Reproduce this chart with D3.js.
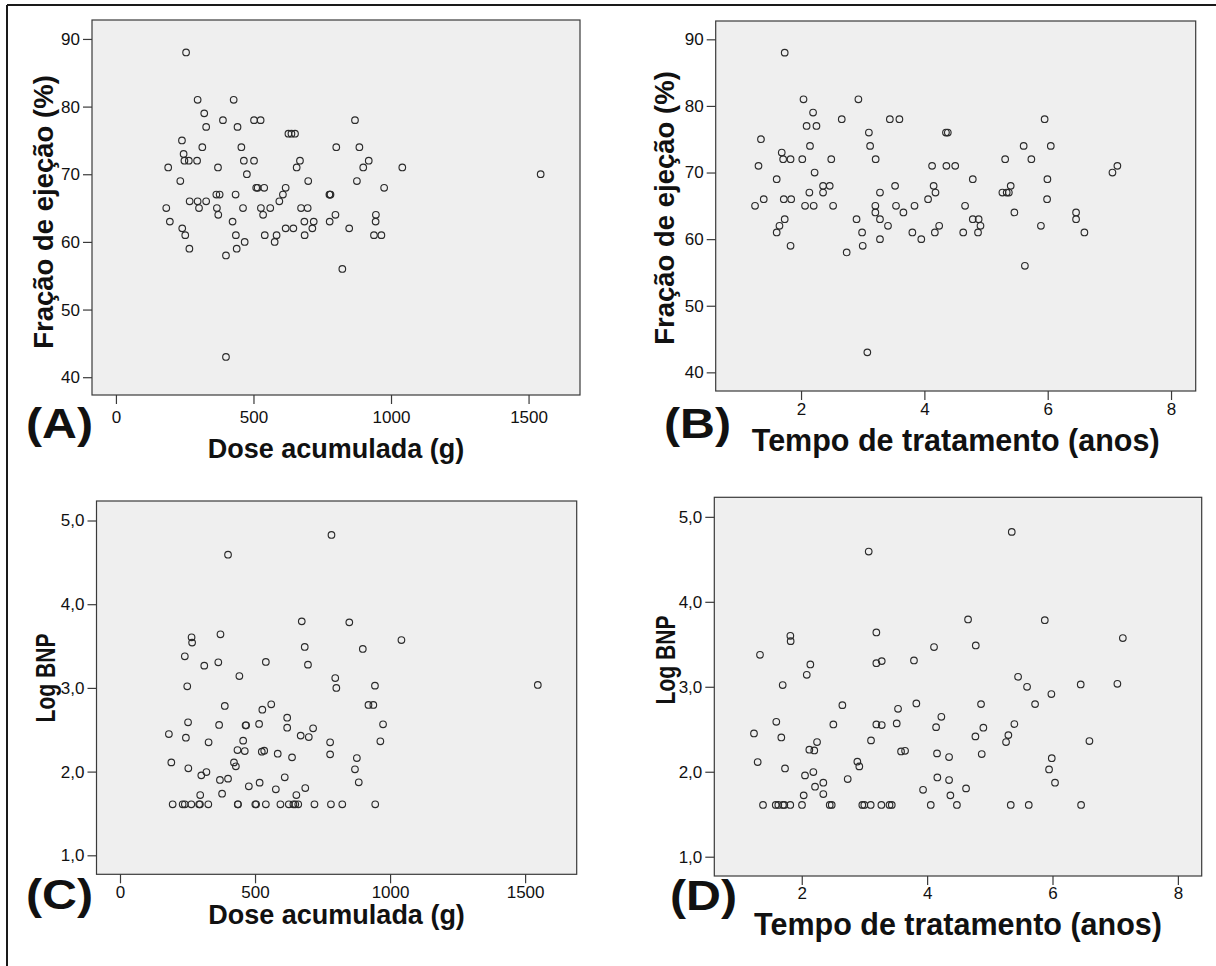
<!DOCTYPE html>
<html>
<head>
<meta charset="utf-8">
<script src="https://cdn.jsdelivr.net/npm/d3@7"></script>
<style>
  html, body { margin: 0; padding: 0; background: #ffffff; }
  svg { display: block; }
</style>
</head>
<body>
<svg id="fig" width="1216" height="966"></svg>
<script>
// ---------- Data ----------
// (A) cumulative dose (g) vs ejection fraction (%)
const doseA = [255, 297, 428, 321, 389, 442, 328, 502, 526, 869, 627, 638, 651, 240, 314, 456, 801, 885,
  246, 249, 265, 295, 465, 502, 669, 919, 190, 371, 657, 899, 1041, 234, 476, 1544, 699, 876, 975,
  510, 515, 539, 617, 607, 365, 377, 435, 776, 778, 780, 594, 268, 297, 328, 183, 302, 367, 462, 527,
  561, 673, 697, 196, 372, 535, 798, 945, 424, 685, 719, 777, 944, 241, 617, 645, 714, 848, 252, 436,
  541, 584, 686, 938, 965, 468, 577, 267, 439, 400, 823, 400];
const efA = [88, 81, 81, 79, 78, 77, 77, 78, 78, 78, 76, 76, 76, 75, 74, 74, 74, 74,
  73, 72, 72, 72, 72, 72, 72, 72, 71, 71, 71, 71, 71, 69, 70, 70, 69, 69, 68,
  68, 68, 68, 68, 67, 67, 67, 67, 67, 67, 67, 66, 66, 66, 66, 65, 65, 65, 65, 65,
  65, 65, 65, 63, 64, 64, 64, 64, 63, 63, 63, 63, 63, 62, 62, 62, 62, 62, 61, 61,
  61, 61, 61, 61, 61, 60, 60, 59, 59, 58, 56, 43];

// (B) treatment time (years) vs ejection fraction (%)
const timeB = [1.735, 2.04, 2.93, 2.195, 2.09, 2.25, 2.66, 3.44, 3.595, 3.10, 4.35, 4.38, 1.35, 2.145, 3.12,
  1.687, 1.71, 1.83, 2.02, 2.49, 3.21, 1.31, 4.125, 4.357, 4.50, 2.22, 1.605, 2.357, 2.465, 3.525, 4.15,
  2.135, 2.357, 3.28, 4.18, 1.395, 1.72, 1.84, 4.06, 1.254, 2.065, 2.205, 2.52, 3.205, 3.54, 3.84, 3.205,
  3.66, 1.735, 2.90, 3.28, 1.65, 3.41, 4.24, 1.605, 2.99, 3.805, 4.17, 3.28, 3.95, 1.83, 3.0, 2.74, 3.075,
  5.95, 5.61, 6.05, 5.31, 5.735, 7.05, 7.13, 4.785, 5.995, 5.40, 5.265, 5.335, 5.37, 5.99, 4.66, 5.46,
  6.46, 4.785, 4.88, 6.46, 4.91, 5.89, 4.63, 4.87, 6.595, 5.63];
const efB = [88, 81, 81, 79, 77, 77, 78, 78, 78, 76, 76, 76, 75, 74, 74,
  73, 72, 72, 72, 72, 72, 71, 71, 71, 71, 70, 69, 68, 68, 68, 68,
  67, 67, 67, 67, 66, 66, 66, 66, 65, 65, 65, 65, 65, 65, 65, 64,
  64, 63, 63, 63, 62, 62, 62, 61, 61, 61, 61, 60, 60, 59, 59, 58, 43,
  78, 74, 74, 72, 72, 70, 71, 69, 69, 68, 67, 67, 67, 66, 65, 64,
  64, 63, 63, 63, 62, 62, 61, 61, 61, 56];

// (C) cumulative dose (g) vs log BNP
const doseC = [783, 400, 673, 849, 265, 267, 372, 684, 240, 312, 364, 540, 696, 442, 249, 797, 801,
  388, 527, 560, 619, 252, 367, 465, 467, 515, 619, 715, 181, 244, 328, 456, 669, 699, 778, 778,
  435, 462, 525, 534, 584, 637, 190, 253, 422, 429, 301, 320, 370, 400, 477, 517, 577, 610, 686,
  653, 297, 378,
  195, 232, 240, 264, 293, 296, 327, 436, 437, 501, 504, 540, 594, 625, 642, 649, 660, 720, 781, 823, 945,
  877, 870, 884, 1042, 899, 944, 1547, 920, 938, 974, 964];
const bnpC = [4.827, 4.592, 3.795, 3.783, 3.604, 3.541, 3.64, 3.489, 3.377, 3.266, 3.306, 3.31, 3.278, 3.142, 3.019, 3.118, 2.999,
  2.784, 2.74, 2.804, 2.644, 2.589, 2.557, 2.553, 2.553, 2.569, 2.525, 2.517, 2.449, 2.405, 2.35, 2.37, 2.43, 2.413, 2.35, 2.206,
  2.258, 2.246, 2.238, 2.25, 2.214, 2.17, 2.11, 2.039, 2.11, 2.063, 1.955, 1.995, 1.90, 1.916, 1.824, 1.868, 1.788, 1.932, 1.804,
  1.72, 1.72, 1.736,
  1.609, 1.609, 1.609, 1.609, 1.609, 1.609, 1.609, 1.609, 1.609, 1.609, 1.609, 1.609, 1.609, 1.609, 1.609, 1.609, 1.609, 1.609, 1.609, 1.609, 1.609,
  2.162, 2.027, 1.872, 3.572, 3.465, 3.027, 3.035, 2.796, 2.796, 2.565, 2.362];

// (D) treatment time (years) vs log BNP
const timeD = [3.068, 3.19, 1.818, 1.823, 1.334, 2.137, 2.08, 1.696, 3.19, 3.276, 3.79, 4.11, 2.648, 3.536,
  3.828, 4.227, 1.594, 2.504, 3.19, 3.276, 3.515, 4.143, 1.238, 1.674, 2.244, 3.105, 2.121, 2.2, 3.584,
  3.648, 4.158, 4.35, 1.297, 1.733, 2.887, 2.918, 2.052, 2.185, 2.212, 2.344, 2.733, 2.344, 2.031, 3.935,
  4.163, 4.35, 4.371,
  1.382, 1.585, 1.626, 1.70, 1.722, 1.817, 2.004, 2.446, 2.478, 2.966, 2.998, 3.10, 3.27, 3.40, 3.436,
  4.058, 4.475, 5.334, 5.621, 6.456,
  5.35, 4.653, 5.877, 7.122, 4.776, 5.451, 5.594, 6.45, 7.035, 5.982, 4.86, 5.722, 5.392, 4.897, 4.77,
  5.296, 5.259, 6.589, 4.871, 5.988, 5.945, 6.04, 4.621];
const bnpD = [4.592, 3.639, 3.6, 3.537, 3.376, 3.263, 3.141, 3.02, 3.278, 3.302, 3.31, 3.467, 2.784, 2.741,
  2.804, 2.647, 2.588, 2.557, 2.557, 2.55, 2.569, 2.525, 2.451, 2.404, 2.349, 2.369, 2.259, 2.251, 2.239,
  2.247, 2.216, 2.173, 2.114, 2.039, 2.118, 2.063, 1.957, 1.996, 1.824, 1.871, 1.914, 1.737, 1.722, 1.788,
  1.933, 1.902, 1.722,
  1.609, 1.609, 1.609, 1.609, 1.609, 1.609, 1.609, 1.609, 1.609, 1.609, 1.609, 1.609, 1.609, 1.609, 1.609,
  1.609, 1.609, 1.609, 1.609, 1.609,
  4.823, 3.792, 3.784, 3.573, 3.486, 3.118, 3.0, 3.027, 3.035, 2.914, 2.796, 2.796, 2.561, 2.518, 2.416,
  2.431, 2.349, 2.361, 2.208, 2.16, 2.027, 1.871, 1.804];

// Tick values and labels
const doseTicks = [0, 500, 1000, 1500];
const timeTicks = [2, 4, 6, 8];
const efTicks = [40, 50, 60, 70, 80, 90];
const bnpTicks = [1, 2, 3, 4, 5];

const doseTitle = "Dose acumulada (g)";
const timeTitle = "Tempo de tratamento (anos)";
const efTitle = "Fração de ejeção (%)";
const bnpTitle = "Log BNP";
const panelLetters = ["(A)", "(B)", "(C)", "(D)"];

// ---------- Layout ----------
const FONT = "'Liberation Sans', Arial, Helvetica, sans-serif";
const fmtInt = d3.format("d");
const fmtComma = d => d.toFixed(1).replace(".", ",");

const panels = [
  { xs: doseA, ys: efA, box: [92, 20, 580, 395], xDom: [-87, 1687], yDom: [37.37, 92.8],
    xTicks: doseTicks, yTicks: efTicks, yFmt: fmtInt, xTitle: doseTitle, yTitle: efTitle,
    letter: panelLetters[0], letterX: 93, letterY: 438, xTitleY: 458, xTitleSize: 27,
    yTitleX: 53, yTitleY: 212, yTitleSize: 27.5, yTitleSquash: 1, tickPad: 7 },
  { xs: timeB, ys: efB, box: [715.7, 21, 1195.7, 391], xDom: [0.616, 8.40], yDom: [37.2, 92.75],
    xTicks: timeTicks, yTicks: efTicks, yFmt: fmtInt, xTitle: timeTitle, yTitle: efTitle,
    letter: panelLetters[1], letterX: 731, letterY: 438, xTitleY: 451, xTitleSize: 30.5,
    yTitleX: 674, yTitleY: 208, yTitleSize: 27.5, yTitleSquash: 1, tickPad: 3 },
  { xs: doseC, ys: bnpC, box: [96.5, 501, 576.7, 874.3], xDom: [-87, 1691], yDom: [0.773, 5.233],
    xTicks: doseTicks, yTicks: bnpTicks, yFmt: fmtComma, xTitle: doseTitle, yTitle: bnpTitle,
    letter: panelLetters[2], letterX: 93, letterY: 909, xTitleY: 924, xTitleSize: 27,
    yTitleX: 55, yTitleY: 678, yTitleSize: 27, yTitleSquash: 0.78, tickPad: 3 },
  { xs: timeD, ys: bnpD, box: [714.3, 497.3, 1201.7, 876], xDom: [0.605, 8.38], yDom: [0.773, 5.23],
    xTicks: timeTicks, yTicks: bnpTicks, yFmt: fmtComma, xTitle: timeTitle, yTitle: bnpTitle,
    letter: panelLetters[3], letterX: 737, letterY: 910, xTitleY: 935, xTitleSize: 30.5,
    yTitleX: 675, yTitleY: 660, yTitleSize: 27, yTitleSquash: 0.78, tickPad: 2 }
];

const svg = d3.select("#fig");

// figure frame (top and left edges)
svg.append("line").attr("x1", 7).attr("y1", 5).attr("x2", 1216).attr("y2", 5)
  .attr("stroke", "#1a1a1a").attr("stroke-width", 2);
svg.append("line").attr("x1", 7).attr("y1", 5).attr("x2", 7).attr("y2", 966)
  .attr("stroke", "#1a1a1a").attr("stroke-width", 2);

panels.forEach(p => {
  const [x0, y0, x1, y1] = p.box;
  const x = d3.scaleLinear().domain(p.xDom).range([x0, x1]);
  const y = d3.scaleLinear().domain(p.yDom).range([y1, y0]);
  const g = svg.append("g");

  // plot background and frame
  g.append("rect")
    .attr("x", x0).attr("y", y0).attr("width", x1 - x0).attr("height", y1 - y0)
    .attr("fill", "#efefef").attr("stroke", "#3a3a3a").attr("stroke-width", 1.2);

  // y axis
  const ya = g.append("g").attr("transform", `translate(${x0},0)`)
    .call(d3.axisLeft(y).tickValues(p.yTicks).tickFormat(p.yFmt).tickSize(9).tickPadding(3));
  ya.select(".domain").remove();
  ya.selectAll(".tick line").attr("stroke", "#3a3a3a").attr("stroke-width", 1.2);
  ya.selectAll(".tick text").attr("font-family", FONT).attr("font-size", 17).attr("fill", "#111");

  // x axis
  const xa = g.append("g").attr("transform", `translate(0,${y1})`)
    .call(d3.axisBottom(x).tickValues(p.xTicks).tickFormat(fmtInt).tickSize(9).tickPadding(p.tickPad));
  xa.select(".domain").remove();
  xa.selectAll(".tick line").attr("stroke", "#3a3a3a").attr("stroke-width", 1.2);
  xa.selectAll(".tick text").attr("font-family", FONT).attr("font-size", 17).attr("fill", "#111");

  // points
  g.append("g").selectAll("circle")
    .data(d3.range(p.xs.length))
    .join("circle")
    .attr("cx", i => x(p.xs[i]))
    .attr("cy", i => y(p.ys[i]))
    .attr("r", 3.3)
    .attr("fill", "none")
    .attr("stroke", "#2b2b2b")
    .attr("stroke-width", 1.15);

  // x title
  g.append("text")
    .attr("x", (x0 + x1) / 2).attr("y", p.xTitleY)
    .attr("text-anchor", "middle")
    .attr("font-family", FONT).attr("font-weight", "bold").attr("font-size", p.xTitleSize)
    .attr("fill", "#111")
    .text(p.xTitle);

  // y title
  g.append("text")
    .attr("transform", `translate(${p.yTitleX},${p.yTitleY}) rotate(-90) scale(${p.yTitleSquash},1)`)
    .attr("text-anchor", "middle")
    .attr("font-family", FONT).attr("font-weight", "bold").attr("font-size", p.yTitleSize)
    .attr("fill", "#111")
    .text(p.yTitle);

  // panel letter
  g.append("text")
    .attr("transform", `translate(${p.letterX},${p.letterY}) scale(1.15,1)`)
    .attr("text-anchor", "end")
    .attr("font-family", FONT).attr("font-weight", "bold").attr("font-size", 42)
    .attr("fill", "#111")
    .text(p.letter);
});
</script>
</body>
</html>
